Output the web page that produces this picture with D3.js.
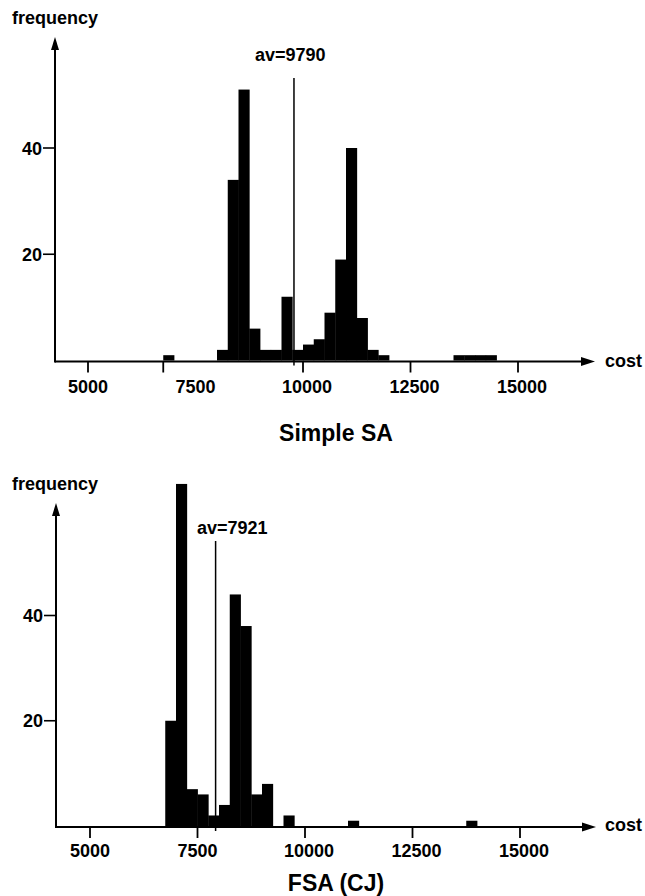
<!DOCTYPE html>
<html>
<head>
<meta charset="utf-8">
<script src="https://cdn.jsdelivr.net/npm/d3@7/dist/d3.min.js"></script>
<style>
  html, body { margin: 0; padding: 0; background: #fff; }
  svg { display: block; }
  text { font-family: "Liberation Sans", Arial, Helvetica, sans-serif; font-weight: bold; fill: #000; }
</style>
</head>
<body>
<svg id="chart" width="645" height="896"></svg>
<script>
// Histogram bins: lower bound of each 250-wide cost bin, with run counts
const binWidth = 250;

const simpleBinStarts = [6750, 8000, 8250, 8500, 8750, 9000, 9250, 9500, 9750, 10000,
                         10250, 10500, 10750, 11000, 11250, 11500, 11750, 13500, 13750, 14000, 14250];
const simpleCounts    = [1, 2, 34, 51, 6, 2, 2, 12, 2, 3,
                         4, 9, 19, 40, 8, 2, 1, 1, 1, 1, 1];
const simpleMean = 9790;

const fsaBinStarts = [6750, 7000, 7250, 7500, 7750, 8000, 8250, 8500, 8750, 9000, 9500, 11000, 13750];
const fsaCounts    = [20, 65, 7, 6, 2, 4, 44, 38, 6, 8, 2, 1, 1];
const fsaMean = 7921;

// Axis ticks
const xTickLabels = [5000, 7500, 10000, 12500, 15000];
const simpleXTickMarks = [5000, 6750, 10000, 12500, 15000];
const fsaXTickMarks = [5000, 7500, 10000, 12500, 15000];
const yTickValues = [20, 40];

const svg = d3.select("#chart");

const panels = [
  {
    title: "Simple SA", starts: simpleBinStarts, counts: simpleCounts, mean: simpleMean,
    tickMarks: simpleXTickMarks,
    xRange: [88, 518], y0: 360.5, y40: 148, axisX: 55, axisTop: 37, axisRight: 595,
    yLabel: 23.5, meanTop: 78, meanLabelX: 255, meanLabelY: 61,
    tickLabelY: 393, costY: 367, titleY: 441
  },
  {
    title: "FSA (CJ)", starts: fsaBinStarts, counts: fsaCounts, mean: fsaMean,
    tickMarks: fsaXTickMarks,
    xRange: [90, 520], y0: 826, y40: 615.5, axisX: 56, axisTop: 503, axisRight: 596,
    yLabel: 490, meanTop: 541, meanLabelX: 197, meanLabelY: 534,
    tickLabelY: 857, costY: 831, titleY: 891
  }
];

panels.forEach(p => {
  const g = svg.append("g");
  const x = d3.scaleLinear().domain([5000, 15000]).range(p.xRange);
  const y = d3.scaleLinear().domain([0, 40]).range([p.y0, p.y40]);
  const bins = p.starts.map((s, i) => ({ x0: s, x1: s + binWidth, n: p.counts[i] }));

  // bars
  g.selectAll("rect.bar").data(bins).enter().append("rect")
    .attr("class", "bar")
    .attr("x", d => x(d.x0))
    .attr("width", d => x(d.x1) - x(d.x0) + 0.4)
    .attr("y", d => y(d.n))
    .attr("height", d => y(0) - y(d.n))
    .attr("fill", "#000");

  // mean line
  g.append("line")
    .attr("x1", x(p.mean)).attr("x2", x(p.mean))
    .attr("y1", p.meanTop).attr("y2", y(0) + 5)
    .attr("stroke", "#000").attr("stroke-width", 1.5);
  g.append("text")
    .attr("x", p.meanLabelX).attr("y", p.meanLabelY)
    .attr("font-size", 18)
    .text("av=" + p.mean);

  // x axis: line with arrow
  const yAxisPos = y(0) + 1;
  g.append("line")
    .attr("x1", p.axisX).attr("x2", p.axisRight - 10)
    .attr("y1", yAxisPos).attr("y2", yAxisPos)
    .attr("stroke", "#000").attr("stroke-width", 2);
  g.append("path")
    .attr("d", `M${p.axisRight},${yAxisPos} L${p.axisRight - 14},${yAxisPos - 4.5} L${p.axisRight - 14},${yAxisPos + 4.5} Z`)
    .attr("fill", "#000");

  // x tick marks and labels
  g.selectAll("line.xt").data(p.tickMarks).enter().append("line")
    .attr("x1", d => x(d)).attr("x2", d => x(d))
    .attr("y1", yAxisPos).attr("y2", yAxisPos + 11)
    .attr("stroke", "#000").attr("stroke-width", 1.8);
  g.selectAll("text.xl").data(xTickLabels).enter().append("text")
    .attr("x", d => x(d) + (d >= 10000 ? 4 : 0))
    .attr("y", p.tickLabelY)
    .attr("text-anchor", "middle")
    .attr("font-size", 18)
    .text(d => d);

  g.append("text")
    .attr("x", 605).attr("y", p.costY)
    .attr("font-size", 18)
    .text("cost");

  // y axis: line with arrow
  g.append("line")
    .attr("x1", p.axisX).attr("x2", p.axisX)
    .attr("y1", yAxisPos + 1).attr("y2", p.axisTop + 10)
    .attr("stroke", "#000").attr("stroke-width", 2);
  g.append("path")
    .attr("d", `M${p.axisX},${p.axisTop} L${p.axisX - 4},${p.axisTop + 13} L${p.axisX + 4},${p.axisTop + 13} Z`)
    .attr("fill", "#000");

  g.selectAll("line.yt").data(yTickValues).enter().append("line")
    .attr("x1", p.axisX - 12).attr("x2", p.axisX)
    .attr("y1", d => y(d)).attr("y2", d => y(d))
    .attr("stroke", "#000").attr("stroke-width", 1.6);
  g.selectAll("text.yl").data(yTickValues).enter().append("text")
    .attr("x", p.axisX - 13).attr("y", d => y(d) + 6.5)
    .attr("text-anchor", "end")
    .attr("font-size", 18)
    .text(d => d);

  g.append("text")
    .attr("x", 12).attr("y", p.yLabel)
    .attr("font-size", 18)
    .text("frequency");

  // panel title
  g.append("text")
    .attr("x", 336).attr("y", p.titleY)
    .attr("text-anchor", "middle")
    .attr("font-size", 23)
    .text(p.title);
});
</script>
</body>
</html>
